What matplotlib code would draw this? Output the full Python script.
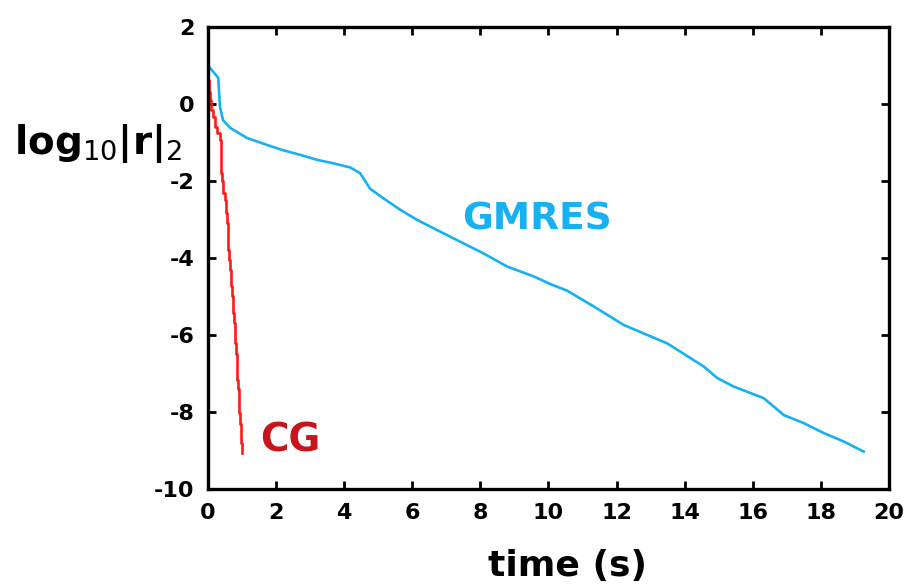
"""
Residual history: CG vs GMRES, log10 of residual norm against wall time.
"""

import matplotlib
matplotlib.use("Agg")
import matplotlib.pyplot as plt

plt.rcParams["axes.unicode_minus"] = False

# --- Data --------------------------------------------------------------------
gmres_t = [0.0, 0.3, 0.35, 0.44, 0.65, 1.14, 1.72, 2.2, 2.7, 3.2, 3.68, 4.18,
           4.47, 4.76, 5.15, 5.65, 6.14, 7.12, 8.09, 8.78, 9.57, 10.06, 10.55,
           11.33, 12.21, 13.49, 14.56, 14.96, 15.44, 16.32, 16.91, 17.5, 18.09,
           18.68, 19.26]
gmres_r = [1.0, 0.68, -0.07, -0.42, -0.62, -0.88, -1.06, -1.2, -1.32, -1.45,
           -1.54, -1.65, -1.8, -2.2, -2.45, -2.75, -3.01, -3.45, -3.88, -4.22,
           -4.48, -4.68, -4.85, -5.26, -5.74, -6.22, -6.82, -7.12, -7.34, -7.64,
           -8.08, -8.29, -8.55, -8.77, -9.03]

cg_t = [0.0, 0.0, 0.03, 0.06, 0.1, 0.14, 0.2, 0.26, 0.35, 0.38, 0.4, 0.45,
        0.5, 0.53, 0.55, 0.58, 0.6, 0.63, 0.65, 0.68, 0.7, 0.74, 0.77, 0.79,
        0.81, 0.86, 0.89, 0.92, 0.94, 0.97, 0.99, 1.0]
cg_r = [1.0, 0.62, 0.3, 0.1, -0.16, -0.35, -0.59, -0.75, -0.94, -1.8, -2.0,
        -2.32, -2.5, -2.84, -3.1, -3.53, -3.8, -4.05, -4.3, -4.74, -5.0,
        -5.44, -5.7, -6.2, -6.5, -7.17, -7.4, -8.03, -8.3, -8.81, -8.9, -9.07]

xticks = list(range(0, 21, 2))
yticks = list(range(-10, 3, 2))

BLUE = "#17b0f0"
RED = "#ff1a1a"
DARK_RED = "#c4161c"

# --- Plot --------------------------------------------------------------------
fig = plt.figure(figsize=(9.14, 5.87), dpi=100)
ax = fig.add_axes([0.2276, 0.167, 0.745, 0.787])

ax.plot(gmres_t, gmres_r, color=BLUE, lw=1.9)
ax.step(cg_t, cg_r, where="post", color=RED, lw=1.9)

ax.set_xlim(0, 20)
ax.set_ylim(-10, 2)
ax.set_xticks(xticks)
ax.set_yticks(yticks)

for s in ax.spines.values():
    s.set_linewidth(2.4)
ax.tick_params(direction="in", length=6, width=2, top=True, right=True,
               labelsize=16, pad=10)
for lab in ax.get_xticklabels() + ax.get_yticklabels():
    lab.set_fontweight("bold")

ax.text(9.65, -2.99, "GMRES", color=BLUE, fontsize=27, fontweight="bold",
        ha="center", va="center")
ax.text(2.43, -8.75, "CG", color=DARK_RED, fontsize=28, fontweight="bold",
        ha="center", va="center")

fig.text(0.621, 0.036, "time (s)", fontsize=26, fontweight="bold",
         ha="center", va="center")
fig.text(0.015, 0.755, r"log$_{10}$|r|$_{2}$", fontsize=28, fontweight="bold",
         ha="left", va="center")

fig.savefig("out.png", dpi=100)
